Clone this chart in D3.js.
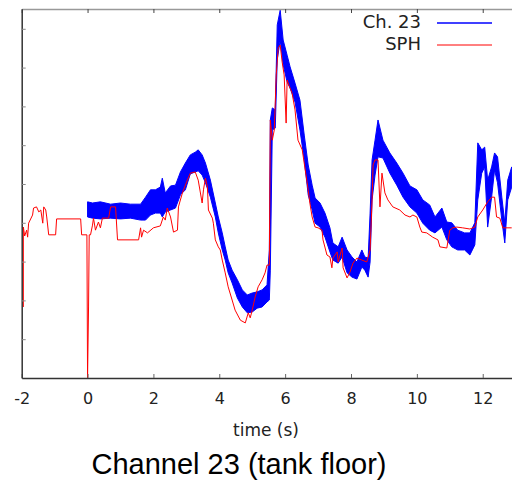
<!DOCTYPE html>
<html>
<head>
<meta charset="utf-8">
<script src="https://cdn.jsdelivr.net/npm/d3@7/dist/d3.min.js"></script>
<style>
body { margin:0; background:#fff; }
svg { display:block; }
</style>
</head>
<body>
<script>
// Ch. 23 measured band (upper / lower edge of the noisy trace)
var blueT = [0,0.15,0.39,0.70,1.00,1.30,1.61,1.76,1.91,2.06,
    2.21,2.27,2.36,2.52,2.67,2.82,2.97,3.12,3.27,3.36,
    3.48,3.58,3.73,3.88,3.97,4.09,4.18,4.27,4.39,4.55,
    4.70,4.85,5.00,5.15,5.30,5.45,5.52,5.55,5.61,5.70,
    5.76,5.85,5.94,6.06,6.15,6.30,6.45,6.58,6.70,6.82,
    6.91,7.06,7.21,7.36,7.45,7.61,7.73,7.88,8.03,8.18,
    8.33,8.42,8.52,8.58,8.64,8.73,8.82,8.97,9.18,9.39,
    9.58,9.79,10.00,10.18,10.39,10.55,10.76,10.91,11.06,11.24,
    11.45,11.61,11.76,11.85,11.97,12.06,12.15,12.27,12.36,12.45,
    12.58,12.67,12.76,12.88]
var blueHi = [4.54,4.51,4.54,4.48,4.51,4.48,4.48,4.66,4.85,4.85,
    4.92,5.15,4.77,4.95,4.97,5.31,5.54,5.75,5.82,5.88,
    5.75,5.54,5.10,4.51,4.15,3.74,3.38,3.04,2.78,2.53,
    2.27,2.14,2.19,2.22,2.27,2.40,3.30,6.65,6.96,6.91,
    9.10,9.48,8.71,8.32,8.02,7.60,7.16,6.26,5.49,4.97,
    4.64,4.51,4.25,3.87,3.48,3.38,3.63,3.30,3.12,2.99,
    3.30,3.12,3.09,4.25,5.62,6.13,6.65,6.13,5.80,5.54,
    5.28,4.95,4.85,4.59,4.46,4.15,4.38,4.02,4.00,3.81,
    3.74,3.74,4.00,6.06,5.88,5.95,5.10,5.44,5.80,5.70,
    4.66,4.00,5.10,5.44]
var blueLo = [4.15,4.12,4.10,4.12,4.10,4.12,4.07,4.07,4.20,4.25,
    4.25,4.15,4.28,4.33,4.38,4.72,4.85,5.26,5.31,5.34,
    5.23,5.03,4.66,4.15,3.74,3.30,3.04,2.71,2.45,2.06,
    1.83,1.68,1.70,1.80,1.83,1.96,2.01,2.78,6.39,6.44,
    8.20,8.71,8.07,7.63,7.47,7.11,6.39,5.62,4.72,4.33,
    3.99,3.89,3.63,3.25,3.04,2.96,3.12,2.71,2.60,2.55,
    2.86,2.78,2.60,2.99,4.59,5.23,5.70,5.67,5.28,4.97,
    4.66,4.41,4.25,3.99,3.81,3.74,3.89,3.56,3.38,3.30,
    3.30,3.17,3.43,4.59,5.28,5.44,3.89,4.66,5.36,5.03,
    4.07,3.48,4.59,4.92]

// SPH trace
var sphT = [-1.95,-1.95,-1.91,-1.85,-1.82,-1.79,-1.67,-1.64,-1.55,-1.48,
    -1.42,-1.36,-1.33,-1.27,-1.24,-1.18,-0.97,-0.94,-0.21,-0.18,
    -0.02,0.00,0.03,0.05,0.09,0.15,0.18,0.24,0.33,0.39,
    0.45,0.64,0.70,0.85,0.91,1.55,1.61,1.64,1.70,1.82,
    2.00,2.21,2.30,2.36,2.42,2.52,2.61,2.73,2.76,2.88,
    3.03,3.12,3.27,3.36,3.48,3.52,3.58,3.64,3.67,3.79,
    3.82,3.88,3.97,4.03,4.09,4.18,4.27,4.39,4.48,4.64,
    4.79,4.88,4.94,5.00,5.09,5.18,5.30,5.39,5.45,5.52,
    5.55,5.61,5.67,5.73,5.79,5.85,5.91,5.97,6.03,6.06,
    6.15,6.21,6.30,6.39,6.52,6.61,6.67,6.76,6.82,6.91,
    7.00,7.12,7.15,7.27,7.36,7.42,7.45,7.58,7.61,7.73,
    7.76,7.88,7.97,8.06,8.18,8.33,8.48,8.58,8.64,8.67,
    8.73,8.82,8.88,8.94,9.03,9.12,9.27,9.48,9.64,9.79,
    9.88,10.00,10.09,10.15,10.30,10.48,10.64,10.70,10.91,11.00,
    11.09,11.21,11.39,11.61,11.76,11.85,12.00,12.15,12.27,12.36,
    12.42,12.52,12.61,12.88]
var sphV = [1.83,3.89,3.66,3.81,3.63,3.99,4.20,4.38,4.41,4.28,
    4.33,3.99,4.41,4.33,4.15,3.69,3.69,4.10,4.10,3.69,
    3.69,0,1.83,3.69,3.69,3.94,4.12,3.81,4.02,3.87,
    4.12,4.12,4.41,4.41,3.56,3.56,3.87,3.63,3.81,3.74,
    3.87,3.92,4.15,4.07,4.38,4.15,3.76,3.81,4.41,4.77,
    5.10,5.28,5.31,5.10,4.51,4.85,5.15,4.92,4.33,4.12,
    3.99,3.56,3.38,3.30,3.04,2.71,2.35,2.01,1.75,1.49,
    1.42,1.68,1.55,1.75,2.09,2.35,2.53,2.71,2.91,2.91,
    6.65,6.13,6.39,7.81,8.51,8.58,8.14,7.81,6.57,7.68,
    7.47,7.35,6.91,6.13,5.88,5.36,5.03,4.46,4.15,3.89,
    3.87,3.81,3.56,3.17,3.12,2.84,3.09,3.25,2.99,3.35,
    2.84,2.58,2.73,2.96,3.09,3.04,2.99,3.30,4.59,5.49,
    5.62,5.62,4.41,5.28,4.77,4.59,4.41,4.33,4.20,4.15,
    4.20,4.15,3.89,3.76,3.74,3.63,3.56,3.38,3.35,3.81,
    3.87,3.89,3.87,3.84,3.89,4.15,4.33,4.54,4.66,4.66,
    4.15,4.12,3.87,3.87]

var xTicks = [-2,0,2,4,6,8,10,12]
var yTicks = [1,2,3,4,5,6,7,8,9]
var seriesNames = ['Ch. 23', 'SPH']
var seriesColors = ['#0000ff', '#ff0000']

var width = 512
var height = 483
var plot = { left:21.7, top:9, bottom:378 }

var x = d3.scaleLinear()
    .domain([-2, 13.5])
    .range([plot.left, plot.left + 15.5*32.93])

var y = d3.scaleLinear()
    .domain([0, 9.51])
    .range([plot.bottom, plot.top])

var svg = d3.select('body').append('svg')
    .attr('width', width)
    .attr('height', height)

svg.append('clipPath').attr('id', 'clip')
    .append('rect')
    .attr('x', plot.left)
    .attr('y', plot.top)
    .attr('width', width - plot.left)
    .attr('height', plot.bottom - plot.top)

var band = blueT.map(function(t, i){ return { t:t, lo:blueLo[i], hi:blueHi[i] } })
var sph = sphT.map(function(t, i){ return { t:t, v:sphV[i] } })

var chart = svg.append('g').attr('clip-path', 'url(#clip)')

// blue band
chart.append('path')
    .datum(band)
    .attr('fill', seriesColors[0])
    .attr('stroke', seriesColors[0])
    .attr('stroke-width', 1)
    .attr('stroke-linejoin', 'round')
    .attr('d', d3.area()
        .x(function(d){ return x(d.t) })
        .y0(function(d){ return y(d.lo) })
        .y1(function(d){ return y(d.hi) }))

// red line on top
chart.append('path')
    .datum(sph)
    .attr('fill', 'none')
    .attr('stroke', seriesColors[1])
    .attr('stroke-width', 1)
    .attr('d', d3.line()
        .x(function(d){ return x(d.t) })
        .y(function(d){ return y(d.v) }))

// axes
var xAxis = svg.append('g')
    .attr('transform', 'translate(0,' + plot.bottom + ')')
    .call(d3.axisBottom(x).tickValues(xTicks).tickSize(-4).tickSizeOuter(0).tickPadding(15)
        .tickFormat(function(d){ return String(d) }))
xAxis.select('.domain').attr('stroke', '#333').attr('stroke-width', 1.5)
xAxis.selectAll('.tick line').attr('stroke', '#666')
xAxis.selectAll('.tick text')
    .attr('fill', '#222')
    .style('font-family', 'DejaVu Sans, sans-serif')
    .style('font-size', '16px')

var topAxis = svg.append('g')
    .attr('transform', 'translate(0,' + plot.top + ')')
    .call(d3.axisTop(x).tickValues(xTicks).tickSize(-4).tickSizeOuter(0).tickFormat(''))
topAxis.select('.domain').attr('stroke', '#999').attr('stroke-width', 1.5)
topAxis.selectAll('.tick line').attr('stroke', '#444')

var yAxis = svg.append('g')
    .attr('transform', 'translate(' + plot.left + ',0)')
    .call(d3.axisLeft(y).tickValues(yTicks).tickSize(-4).tickSizeOuter(0).tickFormat(''))
yAxis.select('.domain').attr('stroke', '#333').attr('stroke-width', 1.5)
yAxis.selectAll('.tick line').attr('stroke', '#888')

svg.append('text')
    .attr('x', 266)
    .attr('y', 436)
    .attr('text-anchor', 'middle')
    .attr('fill', '#222')
    .style('font-family', 'DejaVu Sans, sans-serif')
    .style('font-size', '17px')
    .text('time (s)')

svg.append('text')
    .attr('x', 239)
    .attr('y', 474)
    .attr('text-anchor', 'middle')
    .attr('fill', '#000')
    .style('font-family', 'Liberation Sans, Arial, sans-serif')
    .style('font-size', '29px')
    .text('Channel 23 (tank floor)')

// legend
var legend = svg.append('g')
seriesNames.forEach(function(name, i){
    var ly = 23 + i*22
    legend.append('text')
        .attr('x', 421)
        .attr('y', ly + 5)
        .attr('text-anchor', 'end')
        .attr('fill', '#222')
        .style('font-family', 'DejaVu Sans, sans-serif')
        .style('font-size', '18px')
        .text(name)
    legend.append('line')
        .attr('x1', 437)
        .attr('x2', 492)
        .attr('y1', ly)
        .attr('y2', ly)
        .attr('stroke', seriesColors[i])
        .attr('stroke-width', i === 0 ? 1.5 : 1)
})
</script>
</body>
</html>
